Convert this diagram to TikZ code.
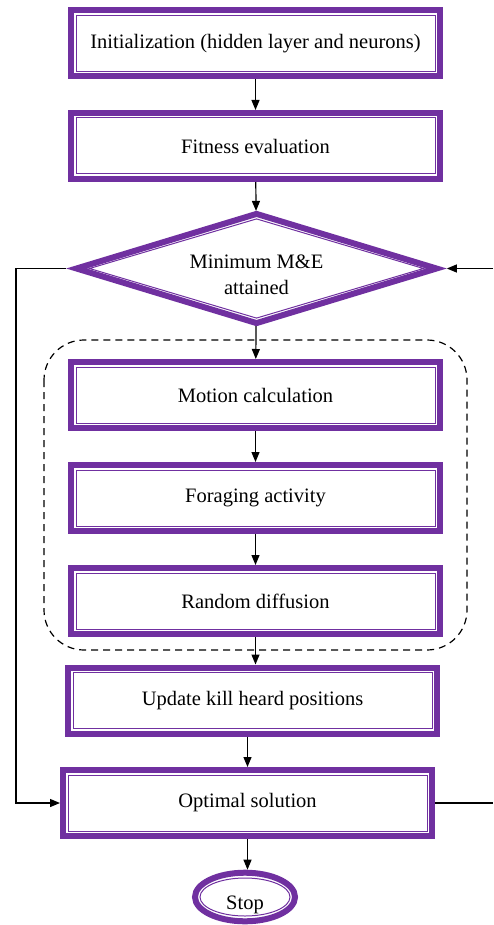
\documentclass[tikz,border=0pt]{standalone}
\usepackage{fontspec}
\setmainfont{Liberation Serif}
\usetikzlibrary{shapes.geometric,arrows.meta}
\definecolor{kpurple}{HTML}{7030A0}
\tikzset{
	stepbox/.style={rectangle, draw=kpurple, line width=6pt, fill=white, inner sep=0pt, outer sep=3pt,
		minimum width=369pt, minimum height=66pt,
		path picture={\draw[kpurple, line width=1pt] ([shift={(5pt,5pt)}]path picture bounding box.south west) rectangle ([shift={(-5pt,-5pt)}]path picture bounding box.north east);}},
	condbox/.style={diamond, aspect=3.3, draw=kpurple, line width=6pt, fill=white, inner sep=0pt, outer xsep=7.35pt, outer ysep=2.2pt,
		minimum width=366pt, minimum height=111pt, align=center, text height=53pt,
		path picture={\draw[kpurple, line width=1pt] ([yshift=-5pt]path picture bounding box.north) -- ([xshift=-13pt]path picture bounding box.east) -- ([yshift=5pt]path picture bounding box.south) -- ([xshift=13pt]path picture bounding box.west) -- cycle;}},
	stopbox/.style={ellipse, draw=kpurple, line width=6pt, fill=white, inner sep=0pt, outer sep=3pt,
		minimum width=100pt, minimum height=48pt, text height=30pt,
		path picture={\draw[kpurple, line width=1pt] (path picture bounding box.center) ellipse [x radius=45pt, y radius=19pt];}},
	arr/.style={-{Triangle[length=10pt,width=8pt]}, line width=1.2pt},
	conn/.style={line width=1.2pt},
	groupbox/.style={dashed, dash pattern=on 7pt off 5pt, line width=1.2pt, rounded corners=40pt},
}
\begin{document}
\begin{tikzpicture}[x=1pt, y=-1pt, every node/.style={font=\fontsize{20.5}{26}\selectfont}]
		%\draw[help lines, step=50] (0,0) grid (493,925);
		\useasboundingbox (0,0) rectangle (493,925);
		\draw[groupbox] (44,340) rectangle (467,650);
		
		\node[stepbox] (init) at (255.5,43.5) {Initialization (hidden layer and neurons)};
		\node[stepbox] (fitness) at (255.5,146) {Fitness evaluation};
		\node[condbox] (cond) at (256.5,268.5) {Minimum M\&E\\attained};
		\node[stepbox] (motion) at (255.5,395) {Motion calculation};
		\node[stepbox] (forage) at (255.5,498) {Foraging activity};
		\node[stepbox] (random) at (255.5,601) {Random diffusion};
		\node[stepbox] (update) at (252.5,700.5) {Update kill heard positions};
		\node[stepbox] (optimal) at (247.5,803) {Optimal solution};
		\node[stopbox] (stop) at (245,897) {Stop};
		
		\coordinate (lft) at (16,500);
		\coordinate (rgtA) at (493,268.5);
		\coordinate (rgtB) at (493,803);
		
		\draw[arr] (init) -- (fitness);
		\draw[arr] (fitness) -- (cond);
		\draw[arr] (cond) -- (motion);
		\draw[arr] (motion) -- (forage);
		\draw[arr] (forage) -- (random);
		\draw[arr] (random.south) -- (random.south |- update.north);
		\draw[arr] (optimal.north |- update.south) -- (optimal.north);
		\draw[arr] (optimal.south) -- (optimal.south |- stop.north);
		\draw[arr] (cond.west) -| (lft) |- (optimal.west);
		\draw[arr] (rgtA) -- (cond.east);
		\draw[conn] (optimal.east) -- (rgtB);
\end{tikzpicture}
\end{document}
